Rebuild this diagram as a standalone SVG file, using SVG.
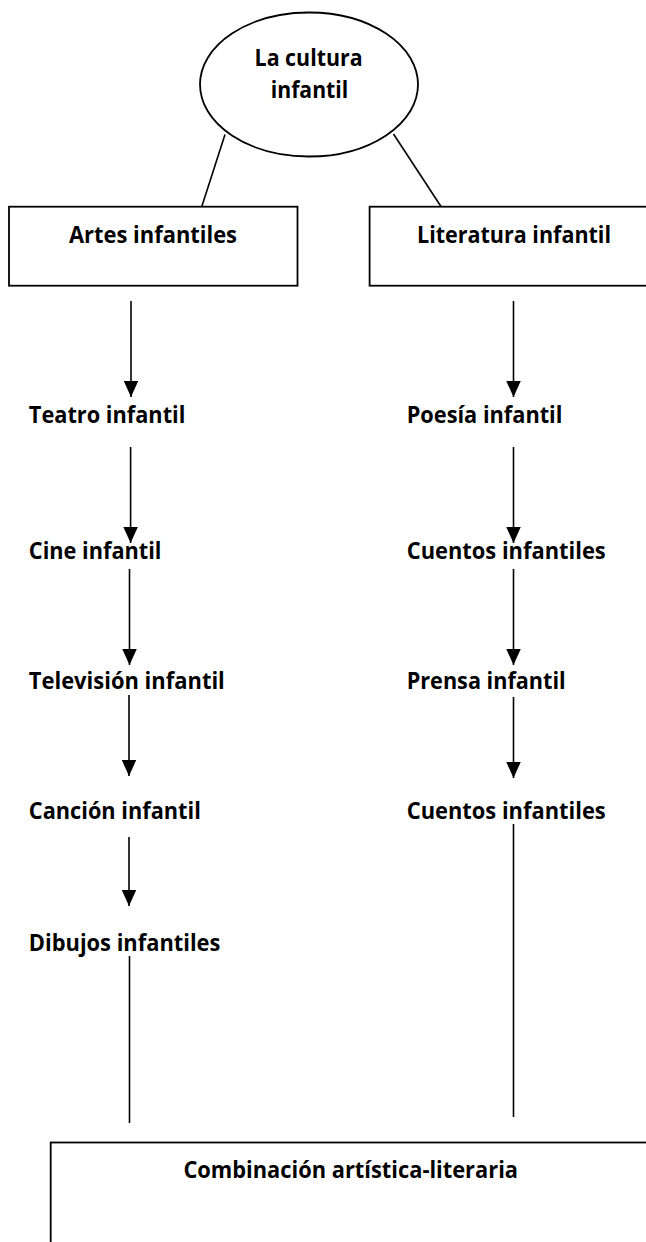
<svg xmlns="http://www.w3.org/2000/svg" width="646" height="1242" viewBox="0 0 646 1242">
<style>
.shape{fill:#fff;stroke:#000;stroke-width:1.8}
.ln{stroke:#000;stroke-width:1.6;fill:none}
.t{font-family:"Open Sans","Liberation Sans",sans-serif;font-weight:bold;font-size:24px;fill:#000}
</style>
<defs>
<marker id="ah" viewBox="0 0 16 14.5" refX="16" refY="7.25" markerWidth="16" markerHeight="14.5" markerUnits="userSpaceOnUse" orient="auto">
<path d="M0,0 L16,7.25 L0,14.5 z" fill="#000"/>
</marker>
</defs>
<rect width="646" height="1242" fill="#fff"/>
<g id="connectors">
<line class="ln" x1="225" y1="134.5" x2="201.8" y2="206.5"/>
<line class="ln" x1="393.5" y1="134" x2="441" y2="206.5"/>
<line class="ln" x1="131" y1="301" x2="131" y2="397" marker-end="url(#ah)"/>
<line class="ln" x1="513.5" y1="301" x2="513.5" y2="397" marker-end="url(#ah)"/>
<line class="ln" x1="130.6" y1="447" x2="130.6" y2="543" marker-end="url(#ah)"/>
<line class="ln" x1="513.5" y1="447" x2="513.5" y2="543" marker-end="url(#ah)"/>
<line class="ln" x1="129.5" y1="569" x2="129.5" y2="665" marker-end="url(#ah)"/>
<line class="ln" x1="513.5" y1="569" x2="513.5" y2="665" marker-end="url(#ah)"/>
<line class="ln" x1="129" y1="695" x2="129" y2="776" marker-end="url(#ah)"/>
<line class="ln" x1="513.5" y1="697" x2="513.5" y2="778" marker-end="url(#ah)"/>
<line class="ln" x1="129" y1="837" x2="129" y2="906" marker-end="url(#ah)"/>
<line class="ln" x1="513.5" y1="824" x2="513.5" y2="1117"/>
<line class="ln" x1="129.5" y1="956" x2="129.5" y2="1123"/>
</g>
<g id="root">
<ellipse class="shape" cx="309" cy="84.5" rx="109" ry="72"/>
<text class="t" x="308.6" y="66" text-anchor="middle" textLength="108" lengthAdjust="spacingAndGlyphs">La cultura</text>
<text class="t" x="309.5" y="98" text-anchor="middle" textLength="77.5" lengthAdjust="spacingAndGlyphs">infantil</text>
</g>
<g id="artes">
<rect class="shape" x="9" y="206.7" width="288.5" height="79"/>
<text class="t" x="69" y="243" textLength="168" lengthAdjust="spacingAndGlyphs">Artes infantiles</text>
</g>
<g id="literatura">
<rect class="shape" x="369.6" y="206.7" width="300" height="79"/>
<text class="t" x="417" y="243" textLength="194" lengthAdjust="spacingAndGlyphs">Literatura infantil</text>
</g>
<g id="teatro"><text class="t" x="28.8" y="423" textLength="156.6" lengthAdjust="spacingAndGlyphs">Teatro infantil</text></g>
<g id="poesia"><text class="t" x="406.7" y="423" textLength="155.7" lengthAdjust="spacingAndGlyphs">Poesía infantil</text></g>
<g id="cine"><text class="t" x="28.8" y="559" textLength="132.7" lengthAdjust="spacingAndGlyphs">Cine infantil</text></g>
<g id="cuentos1"><text class="t" x="406.7" y="559" textLength="199" lengthAdjust="spacingAndGlyphs">Cuentos infantiles</text></g>
<g id="television"><text class="t" x="28.8" y="689" textLength="196" lengthAdjust="spacingAndGlyphs">Televisión infantil</text></g>
<g id="prensa"><text class="t" x="406.7" y="689" textLength="159" lengthAdjust="spacingAndGlyphs">Prensa infantil</text></g>
<g id="cancion"><text class="t" x="28.8" y="819" textLength="172" lengthAdjust="spacingAndGlyphs">Canción infantil</text></g>
<g id="cuentos2"><text class="t" x="406.7" y="819" textLength="199" lengthAdjust="spacingAndGlyphs">Cuentos infantiles</text></g>
<g id="dibujos"><text class="t" x="28.8" y="951" textLength="191.6" lengthAdjust="spacingAndGlyphs">Dibujos infantiles</text></g>
<g id="combinacion">
<rect class="shape" x="50.7" y="1142.5" width="650" height="200"/>
<text class="t" x="183.4" y="1178.3" textLength="334.6" lengthAdjust="spacingAndGlyphs">Combinación artística-literaria</text>
</g>
</svg>
